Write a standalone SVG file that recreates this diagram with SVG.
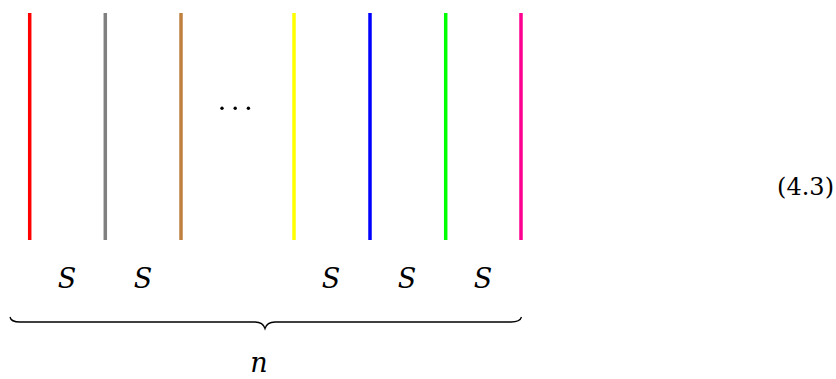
<svg xmlns="http://www.w3.org/2000/svg" width="836" height="379" viewBox="0 0 836 379">
<style>
.strand{stroke-width:3.5;fill:none}
.lbl{font-family:'DejaVu Serif',serif;font-style:italic;font-size:27px;fill:#000;text-anchor:middle}
.eq{font-family:'DejaVu Serif',serif;font-size:24px;fill:#000;text-anchor:end}
.brace{stroke:#000;stroke-width:1.3;fill:none}
</style>
<rect width="836" height="379" fill="#fff"/>
<g id="strands">
<g id="s1"><line class="strand" x1="29.7" y1="13" x2="29.7" y2="240" stroke="#ff0000"/></g>
<g id="s2"><line class="strand" x1="105.3" y1="13" x2="105.3" y2="240" stroke="#808080"/></g>
<g id="s3"><line class="strand" x1="181" y1="13" x2="181" y2="240" stroke="#bf8040"/></g>
<g id="s4"><line class="strand" x1="294" y1="13" x2="294" y2="240" stroke="#ffff00"/></g>
<g id="s5"><line class="strand" x1="370" y1="13" x2="370" y2="240" stroke="#0000ff"/></g>
<g id="s6"><line class="strand" x1="445.7" y1="13" x2="445.7" y2="240" stroke="#00ff00"/></g>
<g id="s7"><line class="strand" x1="521" y1="13" x2="521" y2="240" stroke="#ff0090"/></g>
</g>
<g id="dots" fill="#000">
<circle cx="222" cy="108.3" r="1.7"/>
<circle cx="235.2" cy="108.3" r="1.7"/>
<circle cx="248.4" cy="108.3" r="1.7"/>
</g>
<g id="labels">
<text class="lbl" x="67" y="288">S</text>
<text class="lbl" x="143" y="288">S</text>
<text class="lbl" x="331" y="288">S</text>
<text class="lbl" x="407" y="288">S</text>
<text class="lbl" x="483" y="288">S</text>
<text class="lbl" x="259" y="372">n</text>
</g>
<g id="brace-g">
<path class="brace" d="M10,317 Q11,322 20,322 L255,322 Q263,322 265,328.5 Q267,322 275,322 L511,322 Q520,322 521.5,317"/>
</g>
<text class="eq" x="834" y="195">(4.3)</text>
</svg>
